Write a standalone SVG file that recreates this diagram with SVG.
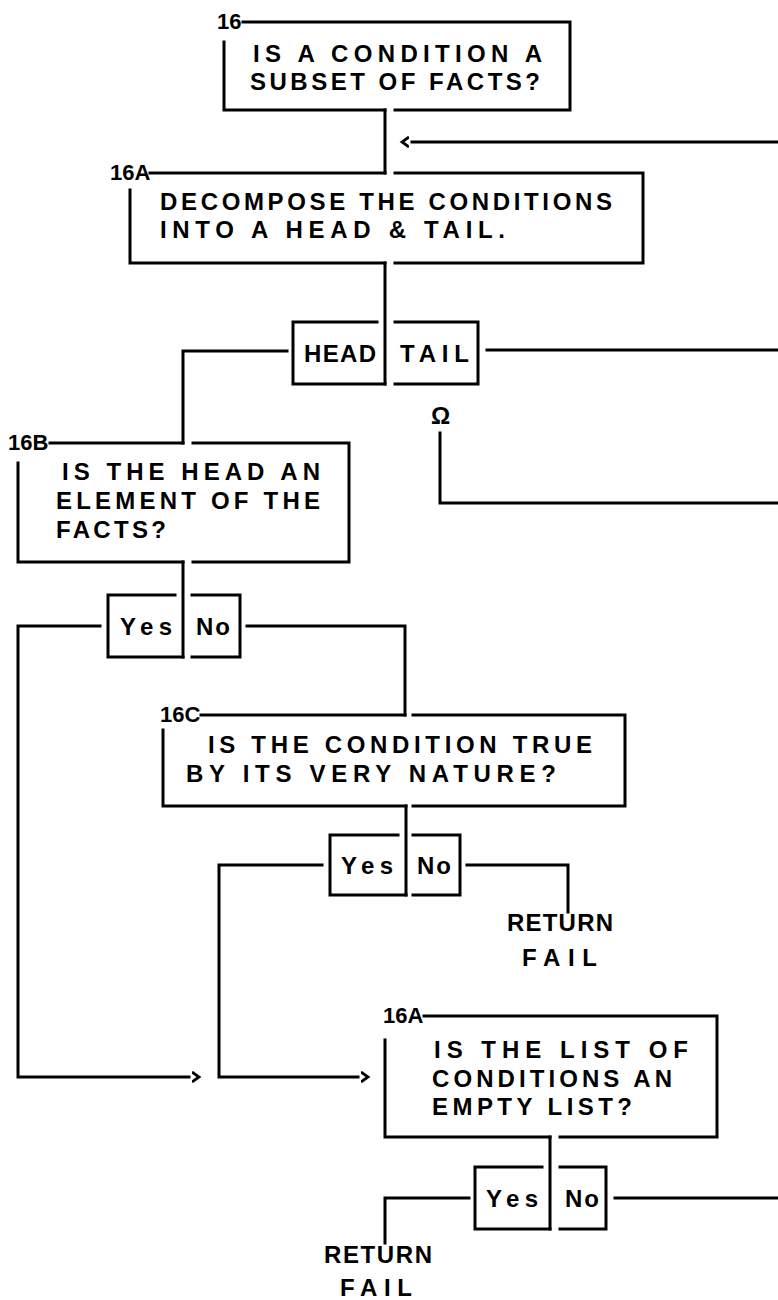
<svg xmlns="http://www.w3.org/2000/svg" width="778" height="1300" viewBox="0 0 778 1300">
<defs>
<marker id="chev" viewBox="0 0 10 12" markerWidth="10" markerHeight="12" refX="-3" refY="6" orient="auto" markerUnits="userSpaceOnUse">
<path d="M0,1 L7,6 L0,11" fill="none" stroke="#000" stroke-width="2.8"/>
</marker>
</defs>
<style>
.ln{fill:none;stroke:#000;stroke-width:3;stroke-linecap:square;stroke-linejoin:miter}
.t{font-family:"Liberation Sans",Arial,sans-serif;font-weight:bold;font-size:24px;fill:#000}
.lb{font-family:"Liberation Sans",Arial,sans-serif;font-weight:bold;font-size:22px;fill:#000}
</style>
<rect width="778" height="1300" fill="#fff"/>

<g id="n16">
<path class="ln" d="M243,22 H570 V110 H395 M385,110 H224 V42"/>
<text class="lb" x="217" y="29">16</text>
<text class="t" x="253" y="62" textLength="289" lengthAdjust="spacing">IS A CONDITION A</text>
<text class="t" x="250" y="90" textLength="290" lengthAdjust="spacing">SUBSET OF FACTS?</text>
</g>

<g id="n16A">
<path class="ln" d="M150,173 H385 M395,173 H643 V263 H395 M385,263 H130 V190"/>
<text class="lb" x="110" y="180">16A</text>
<text class="t" x="160" y="210" textLength="452" lengthAdjust="spacing">DECOMPOSE THE CONDITIONS</text>
<text class="t" x="160" y="238" textLength="345" lengthAdjust="spacing">INTO A HEAD &amp; TAIL.</text>
</g>

<g id="split-headtail">
<path class="ln" d="M377,322 H293 V384 H385 M395,322 H478 V384 H395"/>
<text class="t" x="304" y="362" textLength="72" lengthAdjust="spacing">HEAD</text>
<text class="t" x="400" y="362" textLength="69" lengthAdjust="spacing">TAIL</text>
</g>

<g id="omega">
<text class="t" x="431" y="424">Ω</text>
</g>

<g id="n16B">
<path class="ln" d="M50,443 H183 M193,443 H349 V562 H193 M183,562 H18 V463"/>
<text class="lb" x="8" y="450">16B</text>
<text class="t" x="62" y="480" textLength="258" lengthAdjust="spacing">IS THE HEAD AN</text>
<text class="t" x="56" y="509" textLength="264" lengthAdjust="spacing">ELEMENT OF THE</text>
<text class="t" x="56" y="538" textLength="110" lengthAdjust="spacing">FACTS?</text>
</g>

<g id="yn16B">
<path class="ln" d="M175,595 H108 V657 H183 M192,595 H240 V657 H192"/>
<text class="t" x="120" y="635" textLength="52" lengthAdjust="spacing">Yes</text>
<text class="t" x="196" y="635" textLength="34" lengthAdjust="spacing">No</text>
</g>

<g id="n16C">
<path class="ln" d="M201,715 H405 M413,715 H625 V806 H413 M406,806 H163 V730"/>
<text class="lb" x="160" y="722">16C</text>
<text class="t" x="208" y="753" textLength="384" lengthAdjust="spacing">IS THE CONDITION TRUE</text>
<text class="t" x="186" y="782" textLength="370" lengthAdjust="spacing">BY ITS VERY NATURE?</text>
</g>

<g id="yn16C">
<path class="ln" d="M398,835 H330 V895 H406 M413,835 H460 V895 H413"/>
<text class="t" x="341" y="874" textLength="52" lengthAdjust="spacing">Yes</text>
<text class="t" x="417" y="874" textLength="34" lengthAdjust="spacing">No</text>
</g>

<g id="ret1">
<text class="t" x="507" y="931" textLength="106" lengthAdjust="spacing">RETURN</text>
<text class="t" x="522" y="966" textLength="75" lengthAdjust="spacing">FAIL</text>
</g>

<g id="n16A2">
<path class="ln" d="M424,1016 H717 V1137 H560 M550,1137 H385 V1040"/>
<text class="lb" x="383" y="1023">16A</text>
<text class="t" x="434" y="1058" textLength="254" lengthAdjust="spacing">IS THE LIST OF</text>
<text class="t" x="432" y="1087" textLength="240" lengthAdjust="spacing">CONDITIONS AN</text>
<text class="t" x="432" y="1115" textLength="200" lengthAdjust="spacing">EMPTY LIST?</text>
</g>

<g id="yn16A2">
<path class="ln" d="M542,1167 H475 V1229 H550 M560,1167 H606 V1229 H560"/>
<text class="t" x="486" y="1207" textLength="52" lengthAdjust="spacing">Yes</text>
<text class="t" x="565" y="1207" textLength="34" lengthAdjust="spacing">No</text>
</g>

<g id="ret2">
<text class="t" x="324" y="1263" textLength="108" lengthAdjust="spacing">RETURN</text>
<text class="t" x="340" y="1296" textLength="72" lengthAdjust="spacing">FAIL</text>
</g>

<g id="connectors">
<path class="ln" d="M385,110 V173"/>
<path class="ln" d="M778,142 H412" marker-end="url(#chev)"/>
<path class="ln" d="M385,263 V384"/>
<path class="ln" d="M287,351 H183 V443"/>
<path class="ln" d="M487,350 H778"/>
<path class="ln" d="M440,433 V503 H778"/>
<path class="ln" d="M183,562 V657"/>
<path class="ln" d="M100,626 H18 V1077 H189" marker-end="url(#chev)"/>
<path class="ln" d="M247,626 H405 V715"/>
<path class="ln" d="M406,806 V895"/>
<path class="ln" d="M322,865 H219 V1077 H358" marker-end="url(#chev)"/>
<path class="ln" d="M467,865 H568 V912"/>
<path class="ln" d="M550,1137 V1229"/>
<path class="ln" d="M469,1198 H385 V1243"/>
<path class="ln" d="M615,1198 H778"/>
</g>
</svg>
